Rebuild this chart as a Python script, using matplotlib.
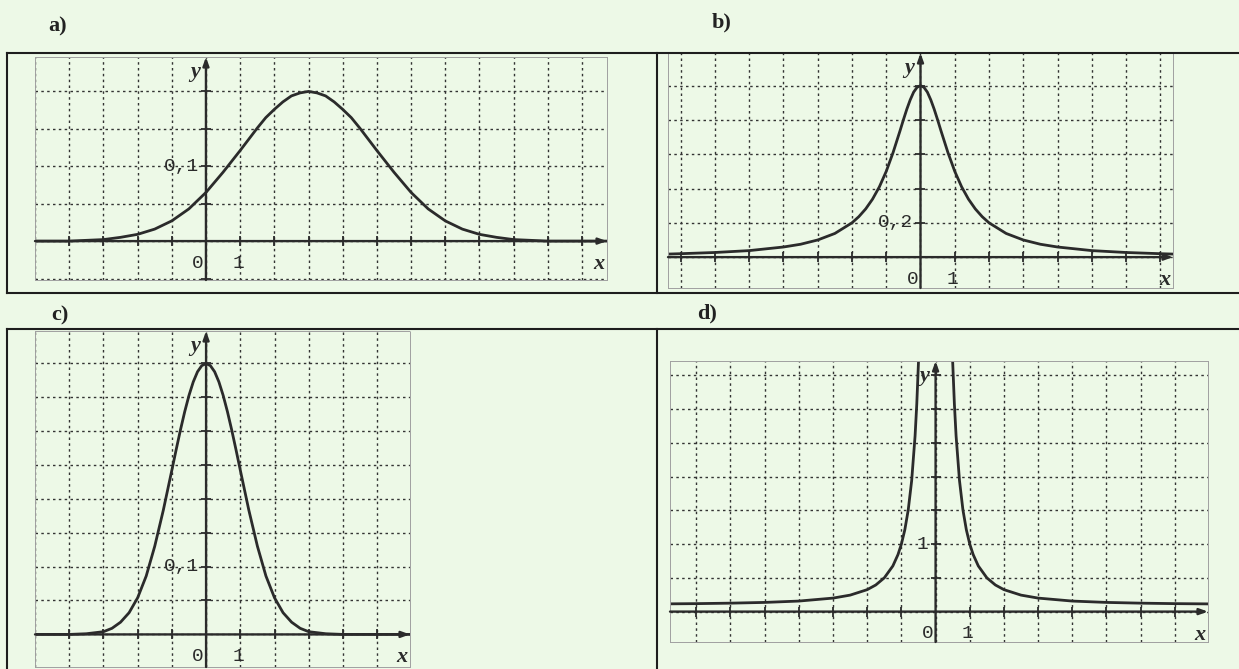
import numpy as np
import matplotlib
matplotlib.use("Agg")
import matplotlib.pyplot as plt
from matplotlib.lines import Line2D

# a) bell curve centred at x = 3
a_x = [-5, -4.5, -4, -3.5, -3, -2.5, -2, -1.5, -1, -0.5, 0, 0.5, 1, 1.25, 1.5, 1.75, 2,
       2.25, 2.5, 2.75, 3, 3.25, 3.5, 3.75, 4, 4.25, 4.5, 4.75, 5, 5.5, 6, 6.5, 7, 7.5,
       8, 8.5, 9, 9.5, 10, 10.5, 11, 11.5, 12]
a_y = [0.000, 0.000, 0.000, 0.001, 0.002, 0.005, 0.009, 0.016, 0.027, 0.043, 0.065, 0.092,
       0.121, 0.136, 0.151, 0.165, 0.176, 0.186, 0.194, 0.198, 0.200, 0.198, 0.194, 0.186,
       0.176, 0.165, 0.151, 0.136, 0.121, 0.092, 0.065, 0.043, 0.027, 0.016, 0.009, 0.005,
       0.002, 0.001, 0.000, 0.000, 0.000, 0.000, 0.000]

# b) sharp peak at x = 0, slow tails
b_x = [-7.5, -7, -6, -5, -4, -3.5, -3, -2.5, -2, -1.8, -1.6, -1.4, -1.2, -1, -0.8, -0.6,
       -0.5, -0.4, -0.3, -0.2, -0.1, 0, 0.1, 0.2, 0.3, 0.4, 0.5, 0.6, 0.8, 1, 1.2, 1.4,
       1.6, 1.8, 2, 2.5, 3, 3.5, 4, 5, 6, 7, 7.5]
b_y = [0.017, 0.020, 0.027, 0.038, 0.059, 0.075, 0.100, 0.138, 0.200, 0.236, 0.281, 0.338,
       0.410, 0.500, 0.610, 0.735, 0.800, 0.862, 0.917, 0.962, 0.990, 1.000, 0.990, 0.962,
       0.917, 0.862, 0.800, 0.735, 0.610, 0.500, 0.410, 0.338, 0.281, 0.236, 0.200, 0.138,
       0.100, 0.075, 0.059, 0.038, 0.027, 0.020, 0.017]

# c) narrow bell curve centred at x = 0
c_x = [-5, -4, -3.5, -3, -2.75, -2.5, -2.25, -2, -1.75, -1.5, -1.25, -1, -0.875, -0.75,
       -0.625, -0.5, -0.375, -0.25, -0.125, 0, 0.125, 0.25, 0.375, 0.5, 0.625, 0.75, 0.875,
       1, 1.25, 1.5, 1.75, 2, 2.25, 2.5, 2.75, 3, 3.5, 4, 5, 6]
c_y = [0.000, 0.000, 0.001, 0.004, 0.009, 0.018, 0.032, 0.054, 0.086, 0.130, 0.183, 0.242,
       0.272, 0.301, 0.328, 0.352, 0.372, 0.387, 0.396, 0.399, 0.396, 0.387, 0.372, 0.352,
       0.328, 0.301, 0.272, 0.242, 0.183, 0.130, 0.086, 0.054, 0.032, 0.018, 0.009, 0.004,
       0.001, 0.000, 0.000, 0.000]

# d) curve going off the top near x = 0
d_x = [-8.5, -8, -7, -6, -5, -4, -3, -2.5, -2, -1.75, -1.5, -1.25, -1.1, -1, -0.9, -0.8,
       -0.7, -0.6, -0.55, -0.5, -0.45, 0.45, 0.5, 0.55, 0.6, 0.7, 0.8, 0.9, 1, 1.1, 1.25,
       1.5, 1.75, 2, 2.5, 3, 4, 5, 6, 7, 8, 8.5]
d_y = [0.112, 0.114, 0.118, 0.125, 0.136, 0.156, 0.200, 0.244, 0.325, 0.394, 0.500, 0.676,
       0.844, 1.000, 1.211, 1.506, 1.937, 2.600, 3.075, 3.700, 4.544, 4.544, 3.700, 3.075,
       2.600, 1.937, 1.506, 1.211, 1.000, 0.844, 0.676, 0.500, 0.394, 0.325, 0.244, 0.200,
       0.156, 0.136, 0.125, 0.118, 0.114, 0.112]

panel_names = ['a)', 'b)', 'c)', 'd)']
y_marks = [0.1, 0.2, 0.1, 1]
y_mark_labels = ['0,1', '0,2', '0,1', '1']

W, H = 1239, 669
BG = '#edf9e7'
INK = '#2b2b2b'
GRID = '#333333'


def box(x0, y0, x1, y1):
    return [x0 / W, 1 - y1 / H, (x1 - x0) / W, (y1 - y0) / H]


def panel(fig, rect, xlim, ylim, ystep, xs, ys, ymark, ymark_label):
    ax = fig.add_axes(rect)
    ax.set_facecolor('none')
    ax.set_xlim(*xlim)
    ax.set_ylim(*ylim)

    xt = np.arange(np.ceil(xlim[0]), xlim[1] + 1e-9, 1.0)
    yt = np.arange(np.ceil(ylim[0] / ystep) * ystep, ylim[1] + 1e-9, ystep)
    ax.set_xticks(xt)
    ax.set_yticks(yt)
    ax.tick_params(length=0, labelbottom=False, labelleft=False)
    ax.grid(True, color=GRID, lw=1.0, ls=(0, (1.8, 2.4)))
    for s in ax.spines.values():
        s.set_linestyle((0, (1, 1)))
        s.set_color('#a0a0a0')
        s.set_linewidth(0.7)

    # axes with arrows
    arrow = dict(arrowstyle='-|>,head_length=0.5,head_width=0.18', lw=1.7,
                 color=INK, shrinkA=0, shrinkB=0)
    ax.annotate('', xy=(xlim[1], 0), xytext=(xlim[0], 0), arrowprops=arrow,
                annotation_clip=False)
    ax.annotate('', xy=(0, ylim[1]), xytext=(0, ylim[0]), arrowprops=arrow,
                annotation_clip=False)
    xt_nz = xt[xt != 0]
    yt_nz = yt[np.abs(yt) > 1e-9]
    ax.plot(xt_nz, np.zeros_like(xt_nz), ls='none', marker='|', ms=7, mew=1.3, color=INK)
    ax.plot(np.zeros_like(yt_nz), yt_nz, ls='none', marker='_', ms=7, mew=1.3, color=INK)

    ax.plot(xs, ys, color=INK, lw=2.0, solid_joinstyle='round', solid_capstyle='round')

    num = dict(family='Liberation Mono', fontsize=14, color=INK)
    var = dict(family='Liberation Serif', fontsize=16, style='italic', weight='bold', color=INK)
    ax.annotate('0', (0, 0), xytext=(-8, -22), textcoords='offset pixels',
                ha='center', va='center', **num)
    ax.annotate('1', (1, 0), xytext=(-2, -22), textcoords='offset pixels',
                ha='center', va='center', **num)
    ax.annotate(ymark_label, (0, ymark), xytext=(-7, 0), textcoords='offset pixels',
                ha='right', va='center', **num)
    ax.annotate('y', (0, ylim[1]), xytext=(-11, -15), textcoords='offset pixels',
                ha='center', va='center', **var)
    ax.annotate('x', (xlim[1], 0), xytext=(-8, -23), textcoords='offset pixels',
                ha='center', va='center', **var)
    return ax


fig = plt.figure(figsize=(W / 100, H / 100), dpi=100, facecolor=BG)

panel(fig, box(35, 57, 607, 280), (-5.0, 11.73), (-0.052, 0.246), 0.05,
      a_x, a_y, y_marks[0], y_mark_labels[0])
panel(fig, box(668, 53, 1173, 288), (-7.37, 7.37), (-0.18, 1.19), 0.2,
      b_x, b_y, y_marks[1], y_mark_labels[1])
panel(fig, box(35, 331, 410, 667), (-5.0, 5.96), (-0.048, 0.447), 0.05,
      c_x, c_y, y_marks[2], y_mark_labels[2])
panel(fig, box(670, 361, 1208, 642), (-7.77, 7.97), (-0.45, 3.71), 0.5,
      d_x, d_y, y_marks[3], y_mark_labels[3])

# table lines around the panels
table = [((7, 53), (1239, 53)), ((7, 293), (1239, 293)), ((7, 329), (1239, 329)),
         ((7, 53), (7, 293)), ((657, 53), (657, 293)),
         ((7, 329), (7, 669)), ((657, 329), (657, 669))]
for (x0, y0), (x1, y1) in table:
    fig.add_artist(Line2D([x0 / W, x1 / W], [1 - y0 / H, 1 - y1 / H], color='#1e1e1e', lw=1.5))

head = dict(family='Liberation Serif', fontsize=16, weight='bold', color='#222222',
            ha='center', va='center')
for name, (px, py) in zip(panel_names, [(58, 26), (722, 22), (60, 315), (707, 313)]):
    fig.text(px / W, 1 - py / H, name, **head)

fig.savefig('out.png', dpi=100, facecolor=BG)
